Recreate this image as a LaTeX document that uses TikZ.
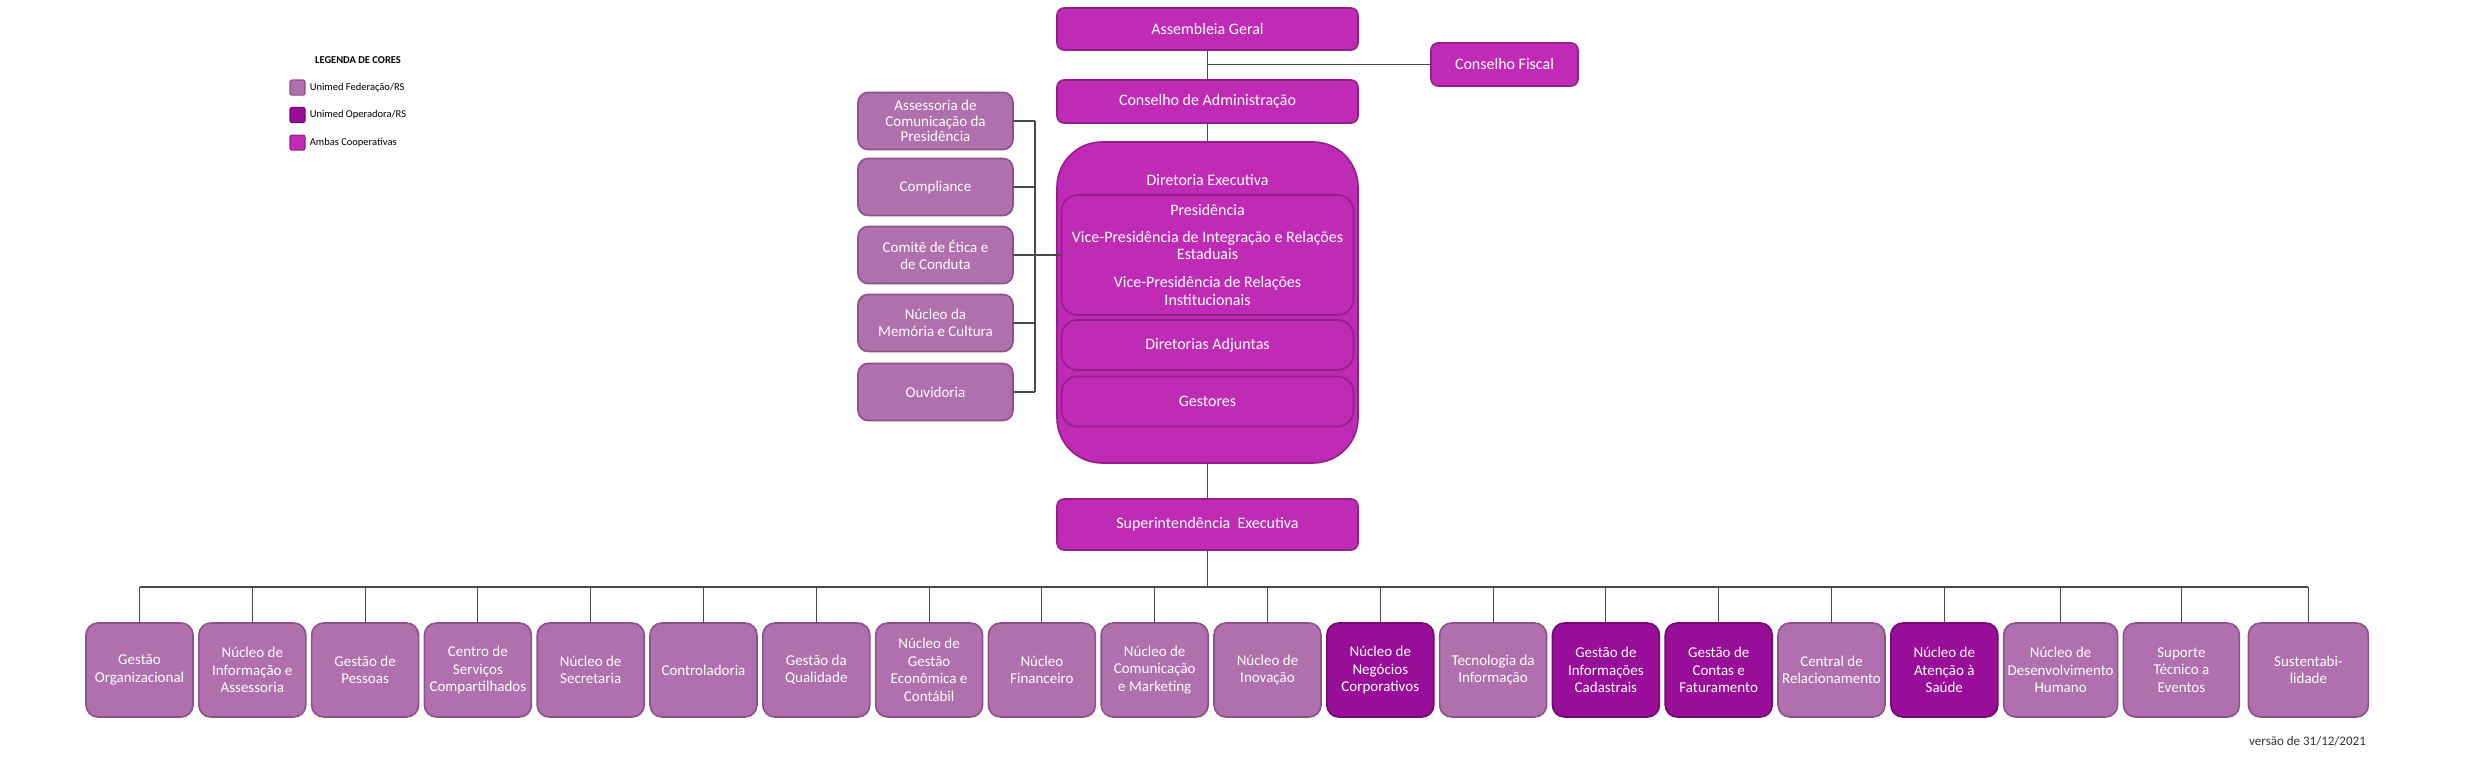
\documentclass[tikz,border=0pt]{standalone}
\usepackage{fontspec}
\setmainfont{Carlito}
\usetikzlibrary{positioning}

\definecolor{federacao}{HTML}{B070AE}
\definecolor{federacaoline}{HTML}{8C5189}
\definecolor{operadora}{HTML}{990E98}
\definecolor{operadoraline}{HTML}{6E0A6D}
\definecolor{ambas}{HTML}{BF2BB5}
\definecolor{ambasline}{HTML}{951E8D}
\definecolor{linkgray}{HTML}{4A4A4A}

\begin{document}
\begin{tikzpicture}[
    x=1pt, y=-1pt,
    node distance=5.8pt,
    box/.style={rectangle, rounded corners=7pt, draw, line width=1.6pt, text=white, align=center, inner sep=2pt, outer sep=0pt},
    fed box/.style={box, fill=federacao, draw=federacaoline},
    op box/.style={box, fill=operadora, draw=operadoraline},
    both box/.style={box, fill=ambas, draw=ambasline},
    top box/.style={both box, minimum width=301pt, font=\fontsize{16}{17.6}\selectfont},
    side box/.style={fed box, rounded corners=10pt, minimum width=155pt, minimum height=57pt, font=\fontsize{15}{17.5}\selectfont},
    unit box/.style={rounded corners=12pt, minimum width=107pt, minimum height=94pt, font=\fontsize{15}{17.5}\selectfont},
    inner box/.style={both box, rounded corners=16pt, minimum width=292pt, font=\fontsize{16}{17.6}\selectfont},
    link/.style={draw=linkgray, line width=1.1pt},
    legend key/.style={rectangle, rounded corners=2pt, line width=1.2pt, minimum size=15pt, inner sep=0pt},
    legend text/.style={anchor=west, font=\fontsize{10.5}{12}\selectfont, inner sep=0pt}
]
    \useasboundingbox (0,0) rectangle (2477,760);

    % Legend
    \node[font=\bfseries\fontsize{10.5}{12}\selectfont] (legendtitle) at (358,60) {LEGENDA DE CORES};
    \node[legend key, fill=federacao, draw=federacaoline] (keyfed) at (297.5,87.6) {};
    \node[legend key, fill=operadora, draw=operadoraline] (keyop) at (297.5,115) {};
    \node[legend key, fill=ambas, draw=ambasline] (keyboth) at (297.5,142.6) {};
    \node[legend text, right=4pt of keyfed] (labelfed) {Unimed Federação/RS};
    \node[legend text, right=4pt of keyop] (labelop) {Unimed Operadora/RS};
    \node[legend text, right=4pt of keyboth] (labelboth) {Ambas Cooperativas};

    % Governance
    \node[top box, minimum height=42pt] (assembleia) at (1207.5,29) {Assembleia Geral};
    \node[both box, minimum width=147pt, minimum height=43pt, font=\fontsize{16}{17.6}\selectfont] (fiscal) at (1504.5,64.5) {Conselho Fiscal};
    \node[top box, minimum height=43pt] (conselho) at (1207.5,101.5) {Conselho de Administração};

    % Executive board
    \node[both box, rounded corners=45pt, minimum width=301pt, minimum height=321pt] (diretoria) at (1207.5,302.5) {};
    \node[text=white, font=\fontsize{16}{17.6}\selectfont] (dirlabel) at (1207.5,180) {Diretoria Executiva};
    \node[inner box, minimum height=120pt] (presid) at (1207.5,255) {Presidência\\[9pt]Vice-Presidência de Integração e Relações\\Estaduais\\[10pt]Vice-Presidência de Relações\\Institucionais};
    \node[inner box, minimum height=50pt] (adjuntas) at (1207.5,345) {Diretorias Adjuntas};
    \node[inner box, minimum height=50pt] (gestores) at (1207.5,401.5) {Gestores};

    % Staff units
    \node[side box, font=\fontsize{15}{15.5}\selectfont] (assessoria) at (935.5,121) {Assessoria de\\Comunicação da\\Presidência};
    \node[side box] (compliance) at (935.5,187) {Compliance};
    \node[side box] (comite) at (935.5,255) {Comitê de Ética e\\de Conduta};
    \node[side box] (memoria) at (935.5,323) {Núcleo da\\Memória e Cultura};
    \node[side box] (ouvidoria) at (935.5,392) {Ouvidoria};

    \node[top box, minimum height=51pt] (superint) at (1207.5,524.5) {Superintendência\ \ Executiva};

    % Units
    \node[fed box, unit box, anchor=west] (gestorg) at (86,670) {Gestão\\Organizacional};
    \node[fed box, unit box, right=of gestorg] (nucinfo) {Núcleo de\\Informação e\\Assessoria};
    \node[fed box, unit box, right=of nucinfo] (pessoas) {Gestão de\\Pessoas};
    \node[fed box, unit box, right=of pessoas] (servicos) {Centro de\\Serviços\\Compartilhados};
    \node[fed box, unit box, right=of servicos] (secretaria) {Núcleo de\\Secretaria};
    \node[fed box, unit box, right=of secretaria] (controladoria) {Controladoria};
    \node[fed box, unit box, right=of controladoria] (qualidade) {Gestão da\\Qualidade};
    \node[fed box, unit box, right=of qualidade] (economica) {Núcleo de\\Gestão\\Econômica e\\Contábil};
    \node[fed box, unit box, right=of economica] (financeiro) {Núcleo\\Financeiro};
    \node[fed box, unit box, right=of financeiro] (marketing) {Núcleo de\\Comunicação\\e Marketing};
    \node[fed box, unit box, right=of marketing] (inovacao) {Núcleo de\\Inovação};
    \node[op box, unit box, right=of inovacao] (negocios) {Núcleo de\\Negócios\\Corporativos};
    \node[fed box, unit box, right=of negocios] (tecnologia) {Tecnologia da\\Informação};
    \node[op box, unit box, right=of tecnologia] (cadastrais) {Gestão de\\Informações\\Cadastrais};
    \node[op box, unit box, right=of cadastrais] (contas) {Gestão de\\Contas e\\Faturamento};
    \node[fed box, unit box, right=of contas] (central) {Central de\\Relacionamento};
    \node[op box, unit box, right=of central] (saude) {Núcleo de\\Atenção à\\Saúde};
    \node[fed box, unit box, minimum width=114pt, right=of saude] (desenvolvimento) {Núcleo de\\Desenvolvimento\\Humano};
    \node[fed box, unit box, minimum width=116pt, right=of desenvolvimento] (eventos) {Suporte\\Técnico a\\Eventos};
    \node[fed box, unit box, minimum width=120pt, right=9pt of eventos] (sustent) {Sustentabi-\\lidade};

    \node[anchor=east, inner sep=0pt, text=black!80, font=\fontsize{13}{15}\selectfont] (versao) at (2366,741) {versão de 31/12/2021};

    % Connectors
    \coordinate (sidebus) at (1035,0);
    \coordinate (unitbus) at (0,587);
    \draw[link] (assembleia.south) -- (conselho.north);
    \draw[link] (fiscal.west) -- (fiscal.west -| assembleia.south);
    \draw[link] (conselho.south) -- (diretoria.north);
    \draw[link] (diretoria.south) -- (superint.north);
    \foreach \n in {assessoria, compliance, comite, memoria, ouvidoria}
        \draw[link] (\n.east) -- (\n.east -| sidebus);
    \draw[link] (assessoria.east -| sidebus) -- (ouvidoria.east -| sidebus);
    \draw[link] (comite.east -| sidebus) -- (presid.west);
    \draw[link] (superint.south) -- (superint.south |- unitbus);
    \draw[link] (gestorg.north |- unitbus) -- (sustent.north |- unitbus);
    \foreach \n in {gestorg, nucinfo, pessoas, servicos, secretaria, controladoria, qualidade, economica, financeiro, marketing, inovacao, negocios, tecnologia, cadastrais, contas, central, saude, desenvolvimento, eventos, sustent}
        \draw[link] (\n.north) -- (\n.north |- unitbus);

\end{tikzpicture}
\end{document}
